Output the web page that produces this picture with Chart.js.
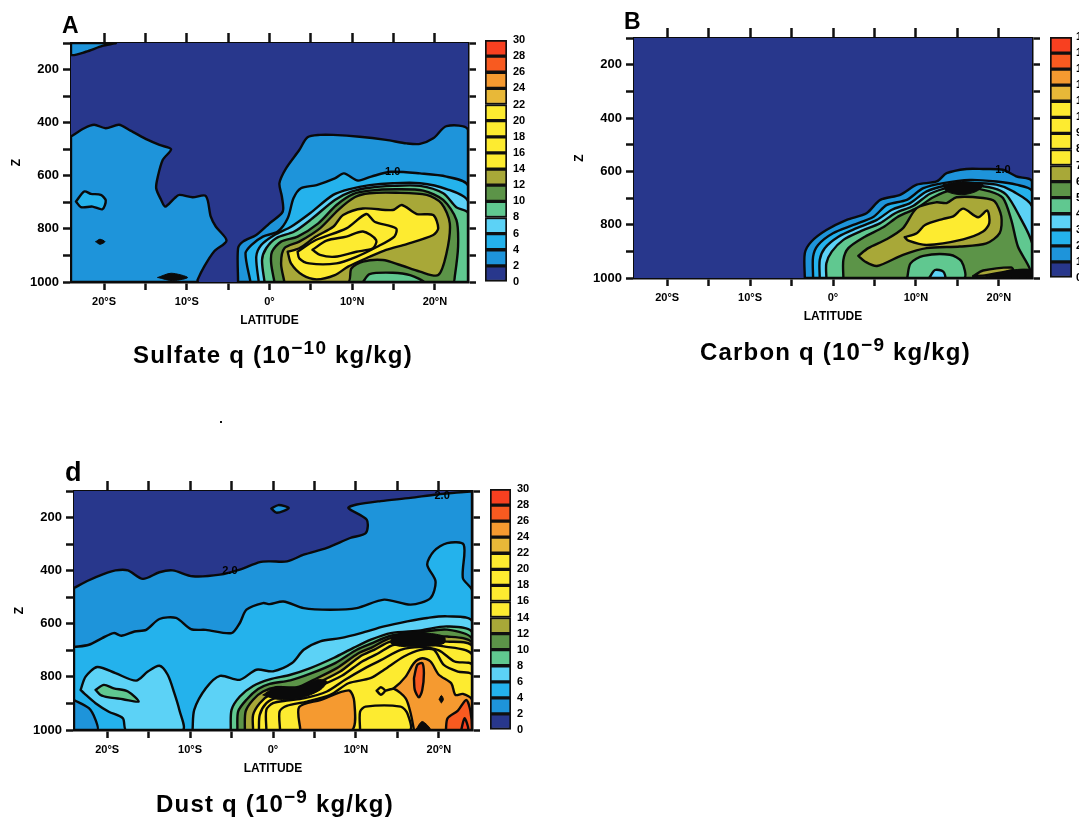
<!DOCTYPE html>
<html>
<head>
<meta charset="utf-8">
<title>Sulfate, Carbon and Dust q</title>
<script src="https://cdn.jsdelivr.net/npm/chart.js@4"></script>
<style>
html,body{margin:0;padding:0;background:#fff;overflow:hidden;width:1079px;height:817px}
canvas{position:absolute;display:block;filter:blur(0.4px)}
.t{position:absolute;font-family:"Liberation Sans",Arial,sans-serif;font-weight:bold;color:#000;white-space:nowrap;line-height:1;filter:blur(0.3px)}
.cap{font-size:24px;letter-spacing:1.2px}
.cap span{position:relative;top:-9px;font-size:19px}
.let{font-size:23px}
#dot{position:absolute;left:220px;top:421px;width:2px;height:2px;background:#111}
</style>
</head>
<body>
<div class="t let" style="left:62px;top:14px">A</div>
<div class="t let" style="left:624px;top:10px">B</div>
<div class="t let" style="left:65px;top:459px;font-size:27px">d</div>
<div class="t cap" style="left:133px;top:343px">Sulfate q (10<span>−10</span> kg/kg)</div>
<div class="t cap" style="left:700px;top:340px">Carbon q (10<span>−9</span> kg/kg)</div>
<div class="t cap" style="left:156px;top:792px">Dust q (10<span>−9</span> kg/kg)</div>
<div id="dot"></div>
<canvas id="pa"></canvas><canvas id="pb"></canvas><canvas id="pd"></canvas>
<canvas id="ca"></canvas><canvas id="cb"></canvas><canvas id="cd"></canvas>
<script>
// ---------- axes ----------
const latTicks = [-20,-15,-10,-5,0,5,10,15,20];
const latLabels = {'-20':'20°S','-10':'10°S','0':'0°','10':'10°N','20':'20°N'};
const zTicks = [100,200,300,400,500,600,700,800,900,1000];
const zLabels = [200,400,600,800,1000];
const plotDomain = [[-24,100],[24,100],[24,1000],[-24,1000]];
const barLabelsTen = [0,2,4,6,8,10,12,14,16,18,20,22,24,26,28,30];
const barLabelsOne = [0,1,2,3,4,5,6,7,8,9,10,11,12,13,14,15];
const bandColors = ['#28378c','#1e94da','#24b2ec','#5cd2f6','#60c890','#5c9448','#a8a838','#fdeb30','#fdeb30','#fdeb30','#fdeb30','#e8b838','#f59a30','#f85a20','#f84020'];

// ---------- sulfate contours: [latitude, z] ----------
const sulfateCorner = [[-24,100],[-18.6,100],[-20.2,111],[-22.2,133],[-24,145]];
const sulfateWest2 = [[-24,452],[-22.4,421],[-21.2,408],[-19.8,421],[-18.2,408],[-16.8,430],[-14.7,465],[-13.3,484],[-11.9,500],[-12.9,540],[-13.5,603],[-13.7,647],[-13.1,691],[-12.6,716],[-11.5,685],[-10.9,672],[-9.3,681],[-7.7,676],[-7.1,754],[-6.5,791],[-5.2,844],[-6.7,885],[-7.9,942],[-8.7,992],[-8.7,1000],[-24,1000]];
const sulfateWest4 = [[-23.4,697],[-22.4,659],[-21.6,668],[-20.4,672],[-19.8,693],[-20.2,726],[-21.4,716],[-22.8,718]];
const sulfateEast2 = [[-3.8,1000],[-3.8,873],[-3.2,848],[-1.6,823],[0,779],[1.6,735],[1.5,679],[1.2,628],[2,572],[3.6,503],[4.6,455],[6.1,446],[7.7,446],[10.9,453],[14.1,465],[16.6,478],[18.2,480],[19.8,459],[21.4,413],[24,428],[24,1000]];
const sulfateEast4 = [[-2.3,1000],[-2.9,892],[-2.2,861],[-0.8,829],[1,810],[2.2,760],[2.9,685],[3.8,647],[5.7,635],[7.9,610],[9,591],[10.7,618],[12.3,603],[14.7,585],[18.2,591],[21.4,603],[24,638],[24,1000]];
const sulfateEast6 = [[-1.3,1000],[-1.6,905],[-1,861],[0.6,823],[2.6,792],[4.9,741],[7.7,672],[9.7,650],[12.1,635],[14.9,628],[18.2,628],[21.4,650],[24,697],[24,1000]];
const sulfateEast8 = [[-0.6,1000],[-0.9,917],[-0.4,873],[0.8,835],[3,810],[5.2,760],[7.9,691],[9.9,660],[12.1,645],[14.9,638],[18.2,638],[21,666],[22.6,719],[24,741],[24,1000]];
const sulfateEast10 = [[0.6,1000],[0.2,930],[0.3,886],[1.4,848],[3.4,829],[5.9,779],[8.1,710],[10.1,669],[12.1,656],[15.3,651],[18.6,656],[21,691],[22.6,766],[22.8,867],[22.4,980],[22.2,1000]];
const sulfateEast12 = [[1.8,1000],[1.4,930],[1.8,873],[3.6,848],[6.1,798],[8.3,729],[10.3,681],[12.1,666],[15.3,664],[19,672],[20.8,704],[21.8,779],[21.4,892],[20.4,974],[18.2,961],[15.8,936],[13.7,917],[11.3,923],[9.9,949],[9.5,1000]];
const sulfateFloor8 = [[11.3,1000],[12.1,970],[14.9,965],[17,974],[18.6,1000]];
const sulfateEast14 = [[2.2,886],[3.6,873],[5.6,829],[7.7,792],[8.9,748],[11.3,723],[14.9,729],[16,710],[17.8,744],[19.8,748],[20.4,798],[19.8,823],[16.6,857],[14.1,879],[12.1,905],[9.5,942],[7.9,974],[5.7,990],[4,974],[2.6,930]];
const sulfateEast16 = [[3.4,886],[5.6,842],[9.3,798],[11.7,744],[12.7,773],[15.3,798],[15.1,829],[12.9,869],[10.5,905],[8.1,930],[4.8,930],[3.6,911]];
const sulfateEast18 = [[5.2,879],[6.9,844],[9.3,829],[11.3,810],[12.9,842],[12.5,873],[10.5,886],[7.9,905],[6.1,898]];
const sulfateBlobs = [[[-21,848],[-20.5,839],[-19.9,848],[-20.5,858]],[[-13.5,983],[-11.9,967],[-9.9,983],[-11.7,995]]];
const sulfateNotes = [[14.9,585,'1.0']];
const sulfateLayers = [[plotDomain,0],[sulfateCorner,1],[sulfateWest2,1],[sulfateWest4,2],[sulfateEast2,1],[sulfateEast4,2],[sulfateEast6,3],[sulfateEast8,4],[sulfateEast10,5],[sulfateEast12,6],[sulfateFloor8,4],[sulfateEast14,7],[sulfateEast16,8],[sulfateEast18,9]];

// ---------- carbon contours ----------
const carbonLevel1 = [[-3.4,1000],[-3.4,907],[-2.6,863],[-0.8,820],[1.65,782],[4.05,757],[5.7,707],[8.1,688],[10.1,650],[12.5,638],[13.7,607],[16.1,591],[18.1,591],[20.5,594],[22.1,619],[24,638],[24,1000]];
const carbonLevel2 = [[-2.4,1000],[-2.4,920],[-1.8,876],[0,832],[2.45,801],[4.9,770],[6.5,726],[8.9,707],[10.9,663],[13.3,644],[16.5,632],[19.7,638],[22.1,650],[24,675],[24,1000]];
const carbonLevel3 = [[-1.6,1000],[-1.6,932],[-1,888],[0.65,845],[2.85,813],[5.3,782],[7.1,744],[9.3,719],[11.3,675],[13.7,653],[16.5,644],[19.7,650],[21.7,675],[24,732],[24,1000]];
const carbonLevel4 = [[-0.8,1000],[-0.8,945],[-0.15,901],[1.25,857],[3.25,826],[5.7,794],[7.5,757],[9.7,729],[11.7,684],[14.1,660],[16.5,653],[19.3,663],[20.9,688],[22.5,769],[24,870],[24,1000]];
const carbonLevel5 = [[1.25,1000],[1.25,932],[1.85,888],[3.85,845],[6.05,810],[7.9,769],[10.1,738],[12.1,697],[14.3,669],[16.5,663],[18.9,675],[20.5,700],[21.5,782],[22.3,882],[23.7,963],[23.7,1000]];
const carbonLevel6 = [[3.05,917],[4.25,888],[6.45,855],[8.45,813],[10.1,738],[12.5,716],[13.7,719],[14.9,697],[18.1,700],[19.5,713],[20.3,769],[20.1,832],[18.5,870],[15.3,882],[11.3,888],[8.45,913],[5.3,955],[3.85,938]];
const carbonLevel7 = [[8.65,847],[10.1,832],[11.1,801],[13.3,778],[14.5,769],[15.7,740],[17.5,772],[18.6,747],[18.85,794],[18.1,826],[15.7,855],[11.3,876],[9.1,860]];
const carbonFloor4 = [[8.95,1000],[9.35,945],[10.9,917],[14.1,913],[15.5,938],[15.8,1000]];
const carbonFloor3 = [[11.6,1000],[12.3,970],[13.3,976],[13.5,1000]];
const carbonSliver6 = [[16.9,993],[18.1,972],[21.5,960],[21.7,970],[18.5,989]];
const carbonBlobs = [[[18.5,995],[21.7,970],[24,970],[24,1000],[17.3,1000]],[[13.3,650],[15.5,638],[18.1,650],[17.3,675],[15.5,688],[13.7,675]]];
const carbonNotes = [[20.5,594,'1.0']];
const carbonLayers = [[plotDomain,0],[carbonLevel1,1],[carbonLevel2,2],[carbonLevel3,3],[carbonLevel4,4],[carbonLevel5,5],[carbonLevel6,6],[carbonFloor4,4],[carbonFloor3,3],[carbonSliver6,6],[carbonLevel7,7]];

// ---------- dust contours ----------
const dustLevel2 = [[-24,465],[-22.2,436],[-20.6,415],[-19,399],[-17.5,399],[-15.7,431],[-13.7,406],[-12.1,399],[-9.7,421],[-6.4,415],[-4,396],[-1.6,368],[-0.4,365],[1.7,365],[3.7,340],[6.5,314],[9.3,277],[11.2,258],[11.3,208],[9.1,164],[10.1,151],[13,138],[16.6,126],[19.8,113],[24,103],[24,1000],[-24,1000]];
const dustPatch2 = [[-0.2,166],[0.65,153],[1.9,164],[0.45,182]];
const dustLevel4 = [[-24,688],[-22.2,679],[-20.6,654],[-19.2,635],[-18.3,645],[-16.7,629],[-15.3,623],[-13.7,582],[-11.7,578],[-9.9,620],[-8.1,623],[-5,635],[-4,597],[-3.2,547],[-1.2,522],[-0.4,526],[1.25,516],[3.7,541],[6.9,547],[10.1,541],[13.4,509],[16.6,528],[19,503],[19.6,440],[18.6,377],[19.4,327],[21,296],[23,302],[22.9,428],[24,475],[24,1000],[-24,1000]];
const dustCorner2 = [[-24,887],[-22.2,918],[-21.4,962],[-21.2,1000],[-24,1000]];
const dustWest6 = [[-23.2,849],[-22.6,799],[-21.2,763],[-19,786],[-16.5,814],[-15.1,780],[-13.7,758],[-12.7,792],[-11.9,861],[-11.3,924],[-10.9,1000],[-17.7,1000],[-18.1,956],[-19.8,931],[-21.4,899],[-22.8,861]];
const dustWest8 = [[-21.4,849],[-20.4,830],[-19.2,843],[-17.5,855],[-16.2,893],[-18.1,884],[-19.8,877],[-20.8,868]];
const dustLevel6 = [[-9.7,1000],[-9.5,924],[-8.1,843],[-6.4,796],[-4,811],[-2,773],[0,779],[2.3,748],[3.7,698],[5.7,666],[8.1,654],[10.6,635],[13.4,610],[16.2,591],[18.6,578],[21,572],[24,591],[24,1000]];
const dustLevel8 = [[-5.1,1000],[-5,924],[-4,874],[-2.4,834],[-0.4,809],[2.1,792],[4.5,767],[7.3,729],[9.7,691],[11.8,660],[14.2,635],[17.8,625],[21,610],[24,633],[24,1000]];
const dustLevel10 = [[-4.3,1000],[-4.2,930],[-3.2,886],[-1.8,846],[-0.4,826],[2.1,813],[4.5,788],[7.5,748],[10.1,698],[11.8,675],[14.2,645],[17.8,632],[21,622],[24,658],[24,1000]];
const dustLevel12 = [[-3.4,1000],[-3.3,930],[-2.4,886],[-1.2,855],[0.45,839],[2.9,839],[4.9,811],[7.7,767],[10.3,711],[12,688],[14.2,654],[17.8,654],[21,648],[24,673],[24,1000]];
const dustLevel14 = [[-2.4,1000],[-2.4,943],[-1.6,899],[-0.4,868],[1.7,851],[3.5,851],[5.3,824],[8.1,780],[10.5,723],[12.2,698],[14.2,667],[17.8,667],[21,667],[24,685],[24,1000]];
const dustLevel16 = [[-1.7,1000],[-1.6,943],[-0.8,899],[0.45,878],[2.9,866],[5.3,839],[8.3,796],[10.75,742],[12.6,713],[14.6,679],[17.8,679],[20.6,685],[24,717],[24,1000]];
const dustLevel18 = [[-0.8,1000],[-0.8,924],[0,899],[1.65,889],[3.7,881],[6.5,855],[8.7,811],[10.95,770],[12.95,738],[15.4,698],[17.8,688],[20,700],[21.9,742],[24,755],[24,1000]];
const dustLevel20 = [[0.85,1000],[0.8,930],[1.65,909],[4.1,893],[6.9,868],[9.1,824],[11.75,805],[13.4,773],[15.8,723],[17.8,698],[19.4,698],[20.6,755],[22.3,780],[24,792],[24,1000]];
const dustWest22 = [[3.3,1000],[3.15,914],[5.7,887],[9.15,851],[9.8,893],[9.5,1000]];
const dustMiddle20 = [[10.5,1000],[10.5,931],[11.15,912],[15.4,912],[16.2,937],[16.5,1000]];
const dustEast22 = [[17,1000],[16.6,937],[16,881],[14.6,845],[13.6,852],[14.6,842],[16,799],[17,748],[18,730],[19,742],[20,792],[21.5,824],[22,868],[22.9,864],[24,887],[24,1000]];
const dustRing20 = [[12.5,852],[13,839],[13.5,852],[13,867]];
const dustCore24 = [[17,805],[17.4,755],[18,748],[18.2,786],[18,849],[17.6,877],[17.1,849]];
const dustFloor24 = [[20.85,1000],[21.05,956],[22.3,927],[23.3,887],[23.8,927],[24,1000]];
const dustFloor26 = [[22.7,1000],[23.1,956],[23.55,1000]];
const dustBlobs = [[[14.4,648],[16.2,629],[18.6,635],[20.65,648],[20.65,673],[18.6,685],[15.4,685],[14.2,673]],[[-1.2,868],[0.45,836],[2.9,842],[5.3,811],[6.5,817],[5.7,849],[3.3,880],[0.45,884]],[[17.2,1000],[18,968],[19,1000]],[[20.05,884],[20.3,870],[20.55,884],[20.3,898]]];
const dustNotes = [[-5.2,402,'2.0'],[20.4,120,'2.0']];
const dustLayers = [[plotDomain,0],[dustLevel2,1],[dustPatch2,1],[dustLevel4,2],[dustCorner2,1],[dustWest6,3],[dustWest8,4],[dustLevel6,3],[dustLevel8,4],[dustLevel10,5],[dustLevel12,6],[dustLevel14,7],[dustLevel16,8],[dustLevel18,9],[dustLevel20,10],[dustWest22,12],[dustMiddle20,10],[dustEast22,12],[dustRing20,10],[dustCore24,13],[dustFloor24,13],[dustFloor26,14]];

// ---------- drawing ----------
Chart.defaults.animation = false;
Chart.defaults.font.family = '"Liberation Sans", Arial, sans-serif';
Chart.defaults.font.weight = 'bold';
Chart.defaults.color = '#000';

const polygonFill = {
  id: 'polygonFill',
  beforeDatasetDraw(chart, args) {
    const ds = chart.data.datasets[args.index];
    if (!ds.polyColor) return;
    args.meta.dataset.updateControlPoints(chart.chartArea, 'x');
    const pts = args.meta.data, c = chart.ctx, a = chart.chartArea;
    c.save();
    c.beginPath(); c.rect(a.left, a.top, a.width, a.height); c.clip();
    c.beginPath();
    pts.forEach((p, i) => {
      if (!i) { c.moveTo(p.x, p.y); return; }
      const q = pts[i - 1];
      if (ds.tension) c.bezierCurveTo(q.cp2x, q.cp2y, p.cp1x, p.cp1y, p.x, p.y);
      else c.lineTo(p.x, p.y);
    });
    c.closePath();
    c.fillStyle = ds.polyColor;
    c.fill();
    c.restore();
  }
};
const noteLabels = {
  id: 'noteLabels',
  afterDatasetsDraw(chart, args, opts) {
    const c = chart.ctx, xs = chart.scales.x, ys = chart.scales.y;
    c.save();
    c.font = 'bold 11px "Liberation Sans", Arial, sans-serif';
    c.textAlign = 'center'; c.textBaseline = 'middle'; c.fillStyle = '#000';
    (opts.notes || []).forEach(n => c.fillText(n[2], xs.getPixelForValue(n[0]), ys.getPixelForValue(n[1])));
    c.restore();
  }
};

function polygonSet(points, color, lineWidth, ord, tension) {
  const closed = points.concat([points[0]]).map(p => ({x: p[0], y: p[1]}));
  return {data: closed, showLine: true, fill: false, tension, pointRadius: 0, pointHoverRadius: 0,
          borderColor: '#0a0a0a', borderWidth: lineWidth, borderJoinStyle: 'round', borderCapStyle: 'round',
          polyColor: color, order: -ord};
}
function contourChart(id, box, layers, blobs, notes) {
  const cv = document.getElementById(id);
  const L = 62, R = 12, T = 12, B = 46;
  cv.width = box.w + L + R; cv.height = box.h + T + B;
  cv.style.left = (box.x - L) + 'px'; cv.style.top = (box.y - T) + 'px';
  const sets = layers.map((l, i) => polygonSet(l[0], bandColors[l[1]], i ? 2.4 : 0, i, i ? 0.28 : 0));
  blobs.forEach((b, i) => sets.push(polygonSet(b, '#0a0a0a', 1, layers.length + i, 0.28)));
  const grid = (len) => ({drawOnChartArea: false, drawTicks: true, tickLength: len, tickColor: '#111', tickWidth: 2.5});
  const border = {display: true, color: '#0a0a0a', width: 2.5};
  const latTk = a => { a.ticks = latTicks.map(v => ({value: v})); };
  const zTk = a => { a.ticks = zTicks.map(v => ({value: v})); };
  new Chart(cv, {
    type: 'scatter',
    data: {datasets: sets},
    options: {
      responsive: false,
      layout: {padding: 0},
      plugins: {legend: {display: false}, tooltip: {enabled: false}, noteLabels: {notes}},
      events: [],
      scales: {
        x: {type: 'linear', position: 'bottom', min: -24, max: 24, grid: grid(8), border,
            afterBuildTicks: latTk, afterFit: s => { s.height = B; },
            ticks: {autoSkip: false, maxRotation: 0, padding: 5, font: {size: 11},
                    callback: v => latLabels[v] || ''},
            title: {display: true, text: 'LATITUDE', font: {size: 12}, padding: {top: 0, bottom: 0}}},
        xTop: {type: 'linear', position: 'top', min: -24, max: 24, grid: grid(10), border,
            afterBuildTicks: latTk, afterFit: s => { s.height = T; }, ticks: {display: false}},
        y: {type: 'linear', position: 'left', reverse: true, min: 100, max: 1000, grid: grid(8), border,
            afterBuildTicks: zTk, afterFit: s => { s.width = L; },
            ticks: {autoSkip: false, padding: 4, font: {size: 13},
                    callback: v => zLabels.includes(v) ? String(v) : ''},
            title: {display: true, text: 'Z', font: {size: 12}, padding: {top: 0, bottom: 0}}},
        yRight: {type: 'linear', position: 'right', reverse: true, min: 100, max: 1000, grid: grid(8), border,
            afterBuildTicks: zTk, afterFit: s => { s.width = R; }, ticks: {display: false}}
      }
    },
    plugins: [polygonFill, noteLabels]
  });
}
function colorBar(id, box, labels) {
  const cv = document.getElementById(id);
  const R = Math.min(28, 1079 - (box.x + box.w));
  const P = 8;
  cv.width = box.w + R; cv.height = box.h + 2 * P;
  cv.style.left = box.x + 'px'; cv.style.top = (box.y - P) + 'px';
  const sets = bandColors.map((col, i) => ({
    data: [labels[i + 1] - labels[i]], backgroundColor: col,
    borderColor: '#101010', borderWidth: 2, borderSkipped: false,
    barPercentage: 1, categoryPercentage: 1
  }));
  new Chart(cv, {
    type: 'bar',
    data: {labels: [''], datasets: sets},
    options: {
      responsive: false, events: [], layout: {padding: {top: P, bottom: P}},
      plugins: {legend: {display: false}, tooltip: {enabled: false}},
      scales: {
        x: {display: false, stacked: true},
        y: {position: 'right', stacked: true, min: labels[0], max: labels[labels.length - 1],
            afterBuildTicks: a => { a.ticks = labels.map(v => ({value: v})); },
            afterFit: s => { s.width = R; s.paddingTop = 0; s.paddingBottom = 0; },
            border: {display: false},
            grid: {drawOnChartArea: false, drawTicks: false},
            ticks: {autoSkip: false, padding: R < 28 ? 4 : 6, font: {size: 11}, callback: v => String(v)}}
      }
    }
  });
}
contourChart('pa', {x: 71, y: 43, w: 397, h: 239}, sulfateLayers, sulfateBlobs, sulfateNotes);
contourChart('pb', {x: 634, y: 38, w: 398, h: 240}, carbonLayers, carbonBlobs, carbonNotes);
contourChart('pd', {x: 74, y: 491, w: 398, h: 239}, dustLayers, dustBlobs, dustNotes);
colorBar('ca', {x: 485, y: 40, w: 22, h: 242}, barLabelsTen);
colorBar('cb', {x: 1050, y: 37, w: 22, h: 241}, barLabelsOne);
colorBar('cd', {x: 490, y: 489, w: 21, h: 241}, barLabelsTen);
</script>
</body>
</html>
